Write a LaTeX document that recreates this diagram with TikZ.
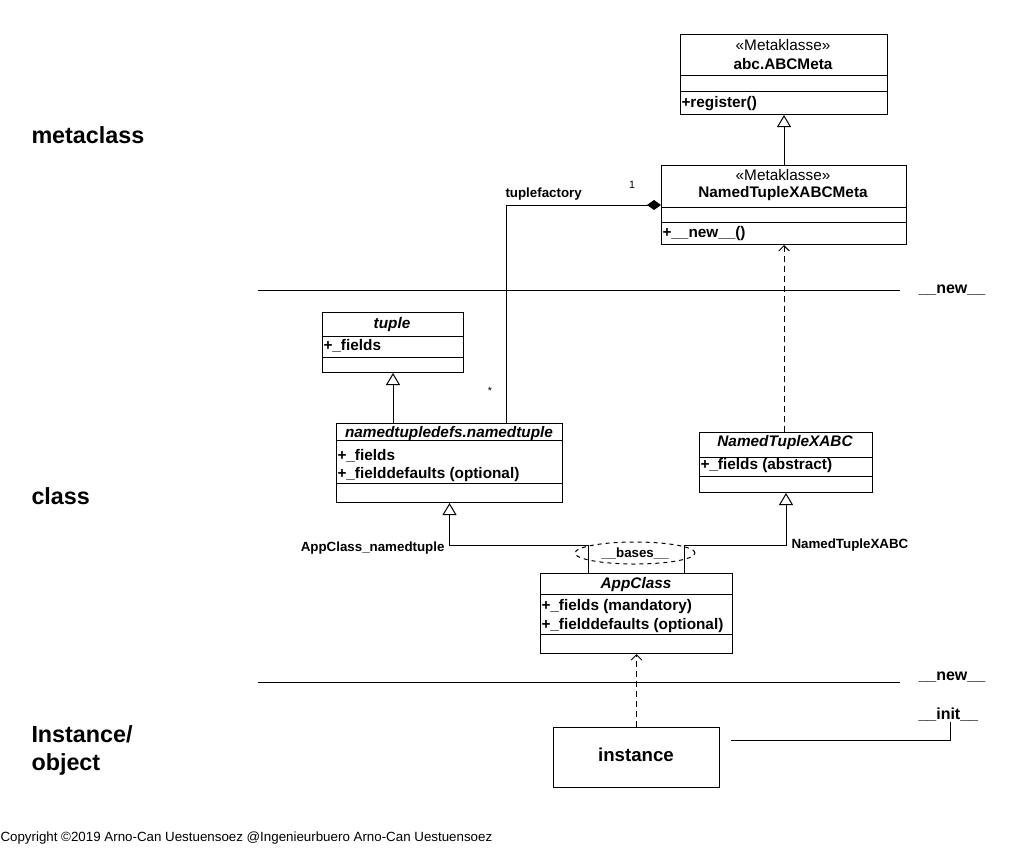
\documentclass[tikz,border=0pt]{standalone}
\usepackage{fontspec}
\setmainfont{Liberation Sans}
\usetikzlibrary{arrows.meta,shapes.geometric,calc}
\tikzset{
  clsbox/.style={draw, inner sep=0pt, anchor=north west},
  nm/.style={font=\bfseries\fontsize{11.5}{14}\selectfont, inner sep=0pt, yshift=-0.75pt},
  nmit/.style={font=\bfseries\itshape\fontsize{11.5}{14}\selectfont, inner sep=0pt, yshift=-1.2pt},
  attr/.style={font=\bfseries\fontsize{11.5}{14}\selectfont, inner sep=0pt, anchor=west, yshift=-1.2pt},
  stereo/.style={font=\fontsize{11.5}{13}\selectfont, inner sep=0pt},
  lbl/.style={font=\bfseries\fontsize{10}{12}\selectfont, inner sep=0pt},
  big/.style={font=\bfseries\fontsize{17.5}{21}\selectfont, inner sep=0pt, anchor=west, align=left},
  meth/.style={font=\bfseries\fontsize{12}{14}\selectfont, inner sep=0pt, anchor=west},
  gen/.style={-{Triangle[open,length=9pt,width=10.5pt]}},
  dep/.style={dash pattern=on 4.5pt off 3pt, -{Straight Barb[length=4pt,width=8pt]}},
  comp/.style={-{Diamond[length=10.5pt,width=7.5pt]}},
}
\begin{document}
\begin{tikzpicture}[x=0.75pt,y=-0.75pt,line width=0.75pt]
\useasboundingbox (0,0) rectangle (1016,847);

% boxes
\node[clsbox, minimum width=207*0.75pt, minimum height=80*0.75pt] (abc) at (680,34) {};
\node[clsbox, minimum width=245*0.75pt, minimum height=79*0.75pt] (meta) at (661,165) {};
\node[clsbox, minimum width=141*0.75pt, minimum height=60*0.75pt] (tuple) at (322,312) {};
\node[clsbox, minimum width=226*0.75pt, minimum height=79*0.75pt] (nt) at (336,423) {};
\node[clsbox, minimum width=173*0.75pt, minimum height=60*0.75pt] (xabc) at (699,432) {};
\node[clsbox, minimum width=192*0.75pt, minimum height=80*0.75pt] (app) at (540,573) {};
\node[clsbox, minimum width=166*0.75pt, minimum height=60*0.75pt] (inst) at (553,727) {};

% compartments
\draw (abc.west|-0,75) -- (abc.east|-0,75);
\draw (abc.west|-0,91) -- (abc.east|-0,91);
\draw (meta.west|-0,207) -- (meta.east|-0,207);
\draw (meta.west|-0,222) -- (meta.east|-0,222);
\draw (tuple.west|-0,336) -- (tuple.east|-0,336);
\draw (tuple.west|-0,357) -- (tuple.east|-0,357);
\draw (nt.west|-0,440) -- (nt.east|-0,440);
\draw (nt.west|-0,483) -- (nt.east|-0,483);
\draw (xabc.west|-0,457) -- (xabc.east|-0,457);
\draw (xabc.west|-0,476) -- (xabc.east|-0,476);
\draw (app.west|-0,594) -- (app.east|-0,594);
\draw (app.west|-0,634) -- (app.east|-0,634);

% box texts
\node[stereo] (abcst) at (783,45) {«Metaklasse»};
\node[nm] (abcnm) at (783,63) {abc.ABCMeta};
\node[attr] (abcop) at (681,102) {+register()};
\node[stereo] (metast) at (783,175) {«Metaklasse»};
\node[nm] (metanm) at (783,193) {NamedTupleXABCMeta};
\node[attr] (metaop) at (662,232) {+\_\_new\_\_()};
\node[nmit] (tuplenm) at (392,323) {tuple};
\node[attr] (tuplea) at (323,344) {+\_fields};
\node[nmit] (ntnm) at (449,432) {namedtupledefs.namedtuple};
\node[attr] (nta) at (337,454) {+\_fields};
\node[attr] (ntb) at (337,473) {+\_fielddefaults (optional)};
\node[nmit] (xabcnm) at (785,441) {NamedTupleXABC};
\node[attr] (xabca) at (700,464) {+\_fields (abstract)};
\node[nmit] (appnm) at (636,583) {AppClass};
\node[attr] (appa) at (541,605) {+\_fields (mandatory)};
\node[attr] (appb) at (541,624) {+\_fielddefaults (optional)};
\node[font=\bfseries\fontsize{14}{16}\selectfont, inner sep=0pt] (insttx) at (636,755) {instance};

% separators
\coordinate (s1a) at (258,290); \coordinate (s1b) at (900,290);
\coordinate (s2a) at (258,682); \coordinate (s2b) at (900,682);
\draw (s1a) -- (s1b);
\draw (s2a) -- (s2b);
\node[meth] (new1) at (918,290) {\_\_new\_\_};
\node[meth] (new2) at (918,677) {\_\_new\_\_};
\node[meth] (init) at (918,715) {\_\_init\_\_};

% connectors
\draw[gen] (meta.north) -- (abc.south);
\draw[gen] (tuple.south|-nt.north) -- (tuple.south);
\draw[dep] (meta.south|-xabc.north) -- (meta.south);
\draw[comp] ($(nt.north west)+(170,0)$) |- (meta.west);
\draw[gen] ($(app.north west)+(48,0)$) -- ++(0,-28) -| (nt.south);
\draw[gen] ($(app.north west)+(144,0)$) -- ++(0,-28) -| (xabc.south);
\draw[dep] (inst.north) -- (app.south);
\coordinate (initc) at (731,740);
\draw (initc) -| (950,722);

\node[draw, dashed, ellipse, minimum width=120*0.75pt, minimum height=22*0.75pt, inner sep=0pt] (bases) at (635,553) {};
\node[lbl] (basestx) at (635,553) {\_\_bases\_\_};

% labels
\node[lbl, anchor=west] (tf) at (505,194) {tuplefactory};
\node[font=\fontsize{8}{10}\selectfont, inner sep=0pt] (one) at (632,185) {1};
\node[font=\fontsize{8}{10}\selectfont, inner sep=0pt] (star) at (490,391) {*};
\node[lbl, anchor=east] (acn) at (445,548) {AppClass\_namedtuple};
\node[lbl, anchor=west] (ntx) at (791,545) {NamedTupleXABC};

\node[big] (lmeta) at (31,135) {metaclass};
\node[big] (lclass) at (31,496) {class};
\node[big] (linst) at (31,750) {Instance/\\object};

\node[font=\fontsize{10}{12}\selectfont, inner sep=0pt, anchor=west] (copy) at (0,838) {Copyright ©2019 Arno-Can Uestuensoez @Ingenieurbuero Arno-Can Uestuensoez};
\end{tikzpicture}
\end{document}
